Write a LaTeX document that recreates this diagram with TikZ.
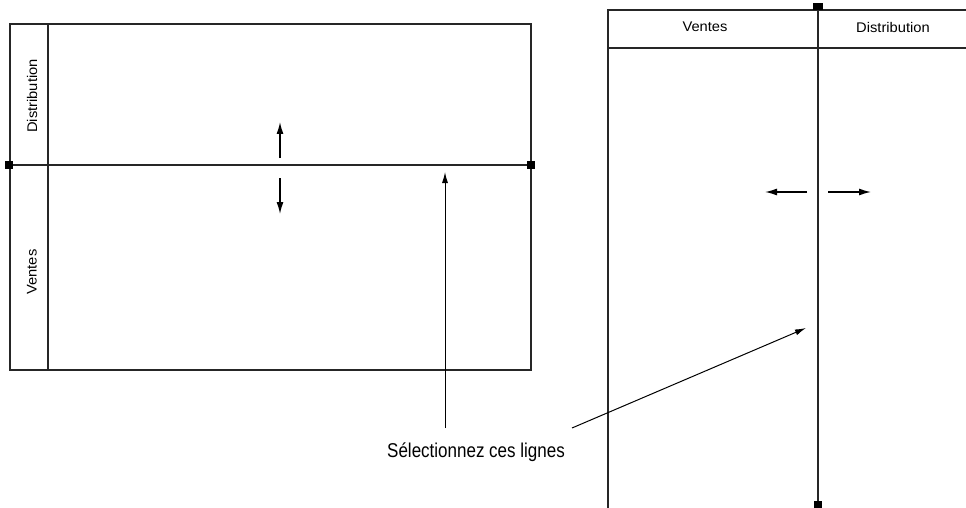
\documentclass[tikz,border=0pt]{standalone}
\usepackage{fontspec}
\setmainfont{Liberation Sans}
\newfontfamily\narrowfont[FakeStretch=1.05]{Liberation Sans}
\newfontfamily\labelfont[FakeStretch=0.85]{Liberation Sans}
\usetikzlibrary{arrows.meta}
\tikzset{
  frame/.style={line width=1.5pt, draw=black!85},
  grip/.style={fill=black, draw=none},
  dragarrow/.style={line width=1.4pt, -{Latex[length=12pt,width=7pt]}},
  pointer/.style={line width=1pt, -{Latex[length=11pt,width=6pt]}},
  lanetext/.style={font=\narrowfont\fontsize{14}{16}\selectfont, inner sep=0pt},
  labeltext/.style={font=\labelfont\fontsize{20}{22}\selectfont, inner sep=0pt, anchor=base west}
}
\begin{document}
\begin{tikzpicture}[x=1pt,y=-1pt]
\useasboundingbox (0,0) rectangle (966,508);
% ---------- left diagram ----------
\coordinate (L1) at (10,24);
\coordinate (L2) at (531,370);
\draw[frame] (L1) rectangle (L2);
\draw[frame] (48,24) -- (48,370);
\coordinate (hl) at (10,165);
\coordinate (hr) at (531,165);
\draw[frame] (hl) -- (hr);
\node[lanetext, rotate=90] (ldist) at (32,96) {Distribution};
\node[lanetext, rotate=90] (lvent) at (32,272) {Ventes};
% drag arrows
\coordinate (ua1) at (280,158);
\coordinate (ua2) at (280,122);
\draw[dragarrow] (ua1) -- (ua2);
\coordinate (da1) at (280,178);
\coordinate (da2) at (280,214);
\draw[dragarrow] (da1) -- (da2);
% ---------- right diagram ----------
\coordinate (R1) at (608,10);
\draw[frame] (970,10) -- (R1) -- (608,510);
\draw[frame] (608,48) -- (970,48);
\coordinate (vt) at (818,8);
\coordinate (vb) at (818,505);
\draw[frame] (vt) -- (vb);
\node[lanetext] (rvent) at (705,27) {Ventes};
\node[lanetext] (rdist) at (893,27) {Distribution};
\coordinate (la1) at (807,192);
\coordinate (la2) at (765,192);
\draw[dragarrow] (la1) -- (la2);
\coordinate (ra1) at (828,192);
\coordinate (ra2) at (871,192);
\draw[dragarrow] (ra1) -- (ra2);
% ---------- label and pointers ----------
\node[labeltext] (lbl) at (387,457) {Sélectionnez ces lignes};
\coordinate (p1s) at (445,428);
\coordinate (p1e) at (445,172);
\draw[pointer] (p1s) -- (p1e);
\coordinate (p2s) at (572,428);
\coordinate (p2e) at (806,328);
\draw[pointer] (p2s) -- (p2e);
% grips
\fill[grip] (527,161) rectangle (535,169);
\fill[grip] (5,161) rectangle (13,169);
\fill[grip] (813,3) rectangle (823,10);
\fill[grip] (814,501) rectangle (822,508);
\end{tikzpicture}
\end{document}
